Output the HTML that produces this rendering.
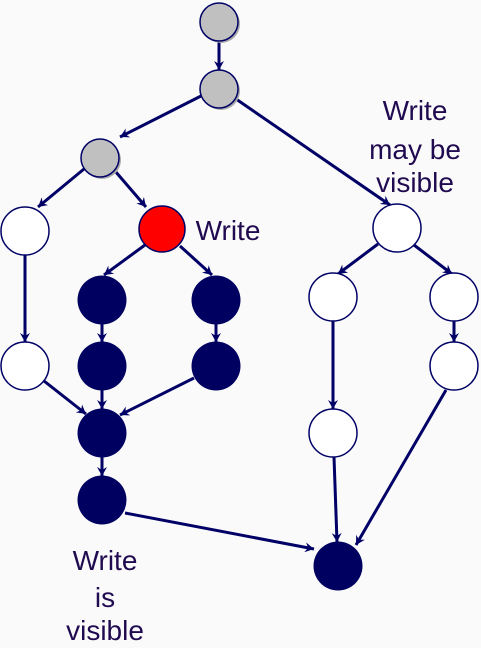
<!DOCTYPE html>
<html><head><meta charset="utf-8"><style>
body{margin:0;background:#fafafa;}
svg{display:block}
text{font-family:"Liberation Sans",sans-serif;font-size:28px;fill:#200a50;text-anchor:middle}
</style></head><body>
<svg width="481" height="648" viewBox="0 0 481 648">
<defs>
<marker id="a" markerWidth="10" markerHeight="10" refX="9" refY="5" orient="auto" markerUnits="userSpaceOnUse">
<path d="M0,0 L9,5 L0,10 L3,5 Z" fill="#000066"/></marker>
</defs>
<g stroke="#000066" stroke-width="3" fill="none" marker-end="url(#a)">
<line x1="219" y1="41" x2="219" y2="70"/>
<line x1="201" y1="96" x2="120" y2="137"/>
<line x1="236" y1="99" x2="390" y2="205"/>
<line x1="84" y1="169" x2="38" y2="207"/>
<line x1="115" y1="171" x2="146" y2="207"/>
<line x1="25" y1="255" x2="25" y2="342"/>
<line x1="145" y1="245" x2="104" y2="275"/>
<line x1="180" y1="246" x2="212" y2="275"/>
<line x1="102" y1="324" x2="102" y2="342"/>
<line x1="216" y1="324" x2="216" y2="342"/>
<line x1="44" y1="381" x2="86" y2="414"/>
<line x1="194" y1="378" x2="120" y2="415"/>
<line x1="102" y1="390" x2="102" y2="409"/>
<line x1="102" y1="457" x2="102" y2="476"/>
<line x1="125" y1="513" x2="314" y2="549"/>
<line x1="378" y1="244" x2="338" y2="274"/>
<line x1="414" y1="245" x2="452" y2="274"/>
<line x1="454" y1="321" x2="454" y2="342"/>
<line x1="333" y1="321" x2="333" y2="409"/>
<line x1="334" y1="457" x2="337" y2="542"/>
<line x1="446" y1="390" x2="356" y2="545"/>
</g>
<g>
<circle cx="221" cy="24" r="19" fill="#aaa"/>
<circle cx="221" cy="91" r="19" fill="#aaa"/>
<circle cx="102" cy="160" r="19" fill="#aaa"/>
</g>
<g stroke="#000066" stroke-width="1.5">
<circle cx="219" cy="22" r="19" fill="#c0c0c0"/>
<circle cx="219" cy="89" r="19" fill="#c0c0c0"/>
<circle cx="100" cy="158" r="19" fill="#c0c0c0"/>
<circle cx="162" cy="229" r="23" fill="#ff0000"/>
<circle cx="25" cy="231" r="24" fill="#fff"/>
<circle cx="25" cy="366" r="24" fill="#fff"/>
<circle cx="397" cy="228" r="24" fill="#fff"/>
<circle cx="333" cy="297" r="24" fill="#fff"/>
<circle cx="454" cy="297" r="24" fill="#fff"/>
<circle cx="454" cy="366" r="24" fill="#fff"/>
<circle cx="333" cy="433" r="24" fill="#fff"/>
</g>
<g fill="#000060">
<circle cx="102" cy="300" r="24.5"/>
<circle cx="216" cy="300" r="24.5"/>
<circle cx="102" cy="366" r="24.5"/>
<circle cx="216" cy="366" r="24.5"/>
<circle cx="102" cy="433" r="24.5"/>
<circle cx="102" cy="500" r="24.5"/>
<circle cx="338" cy="566" r="24.5"/>
</g>
<text x="228" y="240">Write</text>
<text x="415" y="120">Write</text>
<text x="415" y="159">may be</text>
<text x="415" y="192">visible</text>
<text x="105" y="570">Write</text>
<text x="105" y="607">is</text>
<text x="105" y="640">visible</text>
</svg>
</body></html>
